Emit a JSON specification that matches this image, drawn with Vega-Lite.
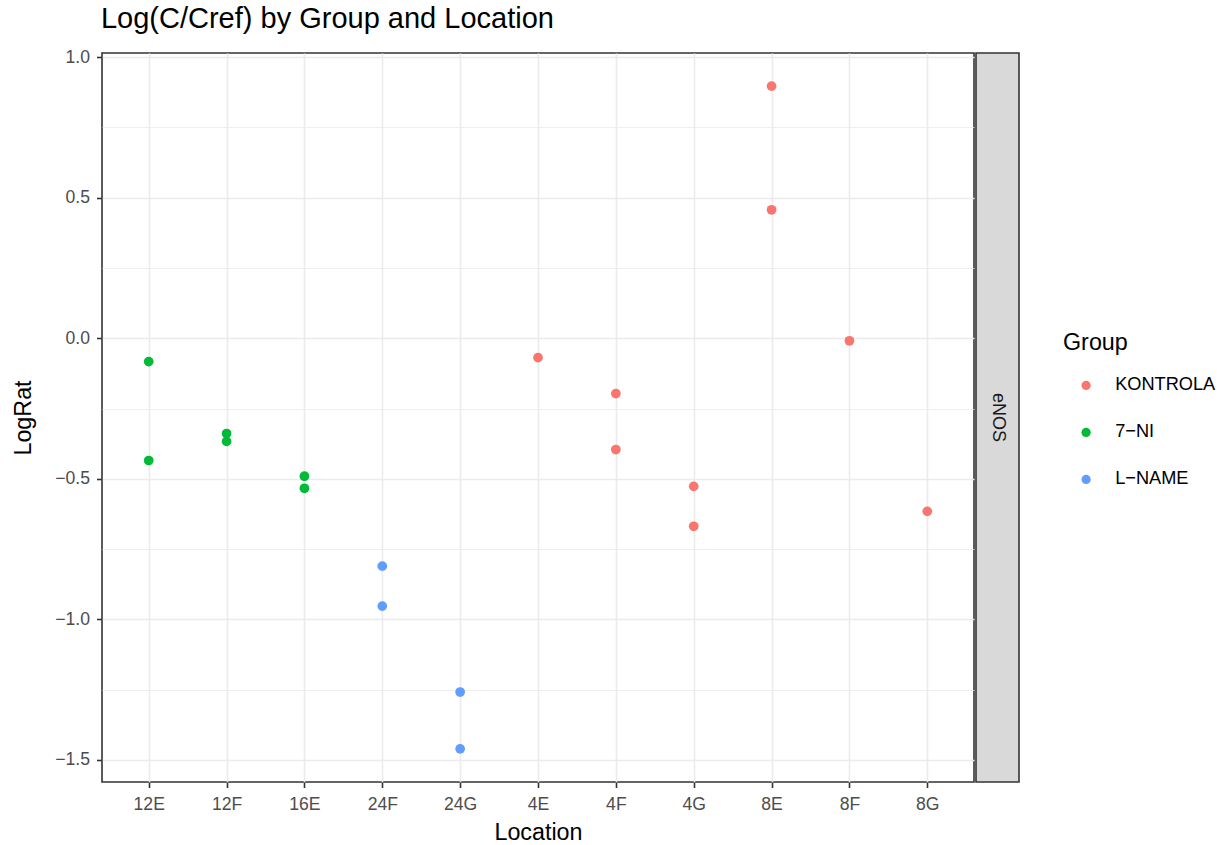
{
  "$schema": "https://vega.github.io/schema/vega-lite/v6.json",
  "padding": {"left": 10, "top": 5, "right": 0, "bottom": 0},
  "title": {"text": "Log(C/Cref) by Group and Location", "anchor": "start", "dx": 90, "fontSize": 29, "fontWeight": "normal", "color": "#000000", "offset": 13},
  "config": {
    "font": "Liberation Sans",
    "view": {"stroke": "#333333", "strokeWidth": 1.6},
    "concat": {"spacing": 0}
  },
  "data": {"values": [
    {"Location": "12E", "LogRat": -0.083, "Group": "7−NI"},
    {"Location": "12E", "LogRat": -0.435, "Group": "7−NI"},
    {"Location": "12F", "LogRat": -0.339, "Group": "7−NI"},
    {"Location": "12F", "LogRat": -0.367, "Group": "7−NI"},
    {"Location": "16E", "LogRat": -0.491, "Group": "7−NI"},
    {"Location": "16E", "LogRat": -0.534, "Group": "7−NI"},
    {"Location": "24F", "LogRat": -0.811, "Group": "L−NAME"},
    {"Location": "24F", "LogRat": -0.953, "Group": "L−NAME"},
    {"Location": "24G", "LogRat": -1.259, "Group": "L−NAME"},
    {"Location": "24G", "LogRat": -1.461, "Group": "L−NAME"},
    {"Location": "4E", "LogRat": -0.069, "Group": "KONTROLA"},
    {"Location": "4F", "LogRat": -0.197, "Group": "KONTROLA"},
    {"Location": "4F", "LogRat": -0.396, "Group": "KONTROLA"},
    {"Location": "4G", "LogRat": -0.527, "Group": "KONTROLA"},
    {"Location": "4G", "LogRat": -0.669, "Group": "KONTROLA"},
    {"Location": "8E", "LogRat": 0.897, "Group": "KONTROLA"},
    {"Location": "8E", "LogRat": 0.457, "Group": "KONTROLA"},
    {"Location": "8F", "LogRat": -0.009, "Group": "KONTROLA"},
    {"Location": "8G", "LogRat": -0.616, "Group": "KONTROLA"}
  ]},
  "hconcat": [
    {
      "width": 872,
      "height": 729,
      "mark": {"type": "point", "filled": true, "opacity": 1, "size": 95},
      "encoding": {
        "x": {
          "field": "Location", "type": "nominal",
          "sort": ["12E", "12F", "16E", "24F", "24G", "4E", "4F", "4G", "8E", "8F", "8G"],
          "scale": {"type": "point", "padding": 0.6},
          "axis": {"title": "Location", "titleFontSize": 23.3, "titleFontWeight": "normal", "titleColor": "#000000", "titlePadding": 8,
            "labelFontSize": 17.6, "labelColor": "#4D4D4D", "labelAngle": 0, "labelPadding": 8,
            "domain": false, "tickColor": "#333333", "tickSize": 5.5, "tickWidth": 1.6,
            "grid": true, "gridColor": "#EBEBEB", "gridWidth": 1.6}
        },
        "y": {
          "field": "LogRat", "type": "quantitative",
          "scale": {"domain": [-1.579, 1.015], "nice": false, "zero": false},
          "axis": {"title": "LogRat", "titleFontSize": 23.3, "titleFontWeight": "normal", "titleColor": "#000000", "titlePadding": 19,
            "values": [-1.5, -1.25, -1, -0.75, -0.5, -0.25, 0, 0.25, 0.5, 0.75, 1],
            "labelExpr": "abs(datum.value*2 - round(datum.value*2)) > 0.01 ? '' : replace(format(datum.value, '.1f'), '-', '−')",
            "labelFontSize": 17.6, "labelColor": "#4D4D4D", "labelPadding": 7,
            "domain": false, "tickColor": "#333333", "tickWidth": 1.6,
            "tickSize": {"condition": {"test": "abs(datum.value*2 - round(datum.value*2)) > 0.01", "value": 0}, "value": 5.5},
            "grid": true, "gridColor": "#EBEBEB",
            "gridWidth": {"condition": {"test": "abs(datum.value*2 - round(datum.value*2)) > 0.01", "value": 0.8}, "value": 1.6}}
        },
        "color": {
          "field": "Group", "type": "nominal",
          "sort": ["KONTROLA", "7−NI", "L−NAME"],
          "scale": {"domain": ["KONTROLA", "7−NI", "L−NAME"], "range": ["#F8766D", "#00BA38", "#619CFF"]},
          "legend": {"title": "Group", "orient": "none", "legendX": 961, "legendY": 279,
            "titleFontSize": 23.3, "titleFontWeight": "normal", "titleColor": "#000000", "titlePadding": 21,
            "labelFontSize": 18.2, "labelColor": "#000000", "labelOffset": 20, "symbolOffset": 14,
            "symbolType": "circle", "symbolSize": 85, "symbolStrokeWidth": 0, "rowPadding": 28, "padding": 0, "offset": 0}
        }
      }
    },
    {
      "width": 43,
      "height": 729,
      "data": {"values": [{"panel": "eNOS"}]},
      "layer": [
        {"mark": {"type": "rect", "fill": "#D9D9D9", "stroke": "#333333", "strokeWidth": 1.6}, "encoding": {}},
        {"mark": {"type": "text", "angle": 90, "fontSize": 18, "color": "#1A1A1A"}, "encoding": {"text": {"field": "panel"}}}
      ]
    }
  ]
}
